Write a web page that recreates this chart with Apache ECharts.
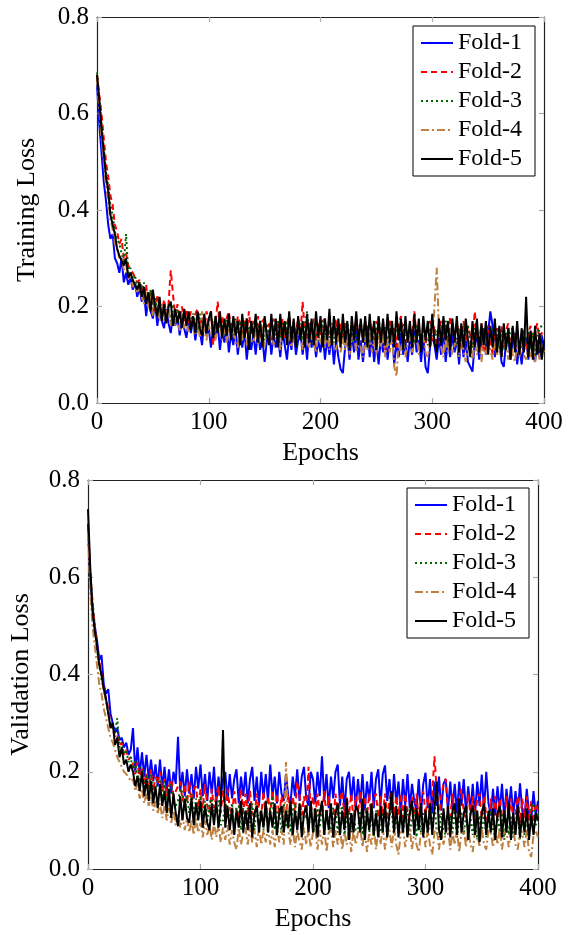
<!DOCTYPE html>
<html>
<head>
<meta charset="utf-8">
<script src="https://cdn.jsdelivr.net/npm/echarts@6/dist/echarts.min.js"></script>
<style>html,body{margin:0;padding:0;background:#fff;}#c{width:574px;height:935px;}</style>
</head>
<body>
<div id="c"></div>
<script>
const epochs = [0,2,4,6,8,10,12,14,16,18,20,22,24,26,28,30,32,34,36,38,40,42,44,46,48,50,52,54,56,58,60,62,64,66,68,70,72,74,76,78,80,82,84,86,88,90,92,94,96,98,100,102,104,106,108,110,112,114,116,118,120,122,124,126,128,130,132,134,136,138,140,142,144,146,148,150,152,154,156,158,160,162,164,166,168,170,172,174,176,178,180,182,184,186,188,190,192,194,196,198,200,202,204,206,208,210,212,214,216,218,220,222,224,226,228,230,232,234,236,238,240,242,244,246,248,250,252,254,256,258,260,262,264,266,268,270,272,274,276,278,280,282,284,286,288,290,292,294,296,298,300,302,304,306,308,310,312,314,316,318,320,322,324,326,328,330,332,334,336,338,340,342,344,346,348,350,352,354,356,358,360,362,364,366,368,370,372,374,376,378,380,382,384,386,388,390,392,394,396,398,400];
const foldNames = ['Fold-1','Fold-2','Fold-3','Fold-4','Fold-5'];
const xTicks = [0,100,200,300,400];
const yTicks = ['0.0','0.2','0.4','0.6','0.8'];

// Training loss (one value every 2 epochs)
const trainFold1 = [0.66,0.58,0.52,0.46,0.42,0.37,0.34,0.35,0.30,0.29,
0.27,0.30,0.25,0.27,0.245,0.26,0.235,0.25,0.22,0.24,
0.21,0.23,0.18,0.22,0.19,0.175,0.21,0.16,0.195,0.17,
0.155,0.195,0.165,0.145,0.185,0.16,0.18,0.14,0.175,0.155,
0.135,0.17,0.145,0.175,0.13,0.165,0.15,0.12,0.17,0.14,
0.155,0.115,0.16,0.135,0.165,0.11,0.15,0.125,0.16,0.105,
0.145,0.12,0.155,0.10,0.14,0.115,0.15,0.09,0.135,0.11,
0.145,0.10,0.15,0.11,0.135,0.085,0.13,0.15,0.10,0.14,
0.115,0.145,0.095,0.15,0.12,0.09,0.14,0.11,0.155,0.10,
0.13,0.15,0.10,0.14,0.09,0.155,0.115,0.14,0.095,0.13,
0.105,0.145,0.09,0.135,0.10,0.14,0.08,0.13,0.095,0.07,
0.062,0.115,0.14,0.09,0.145,0.105,0.155,0.09,0.13,0.085,
0.13,0.16,0.095,0.14,0.085,0.13,0.08,0.135,0.105,0.15,
0.09,0.13,0.145,0.08,0.125,0.095,0.145,0.10,0.13,0.085,
0.135,0.10,0.15,0.105,0.13,0.085,0.14,0.075,0.062,0.115,
0.14,0.12,0.09,0.135,0.10,0.155,0.085,0.13,0.095,0.145,
0.105,0.135,0.08,0.145,0.095,0.13,0.085,0.075,0.065,0.125,
0.135,0.09,0.13,0.155,0.10,0.145,0.19,0.16,0.095,0.135,
0.125,0.085,0.075,0.125,0.14,0.09,0.13,0.145,0.08,0.12,
0.08,0.125,0.135,0.09,0.14,0.10,0.085,0.13,0.095,0.14,
0.115];
const trainFold2 = [0.68,0.64,0.60,0.55,0.50,0.47,0.43,0.41,0.37,0.355,
0.33,0.34,0.30,0.31,0.285,0.275,0.27,0.26,0.25,0.255,
0.24,0.215,0.245,0.20,0.235,0.22,0.19,0.225,0.20,0.18,
0.215,0.185,0.205,0.275,0.225,0.18,0.205,0.175,0.20,0.17,
0.195,0.165,0.19,0.16,0.185,0.195,0.155,0.18,0.15,0.19,
0.17,0.19,0.12,0.165,0.21,0.155,0.18,0.145,0.175,0.19,
0.15,0.175,0.14,0.18,0.165,0.135,0.175,0.145,0.19,0.14,
0.17,0.145,0.18,0.135,0.17,0.175,0.14,0.165,0.13,0.175,
0.145,0.17,0.135,0.175,0.135,0.165,0.18,0.14,0.17,0.145,
0.175,0.14,0.21,0.15,0.13,0.17,0.145,0.175,0.13,0.165,
0.14,0.17,0.175,0.13,0.165,0.125,0.16,0.175,0.14,0.165,
0.135,0.17,0.145,0.125,0.165,0.14,0.18,0.13,0.165,0.14,
0.17,0.13,0.16,0.165,0.12,0.17,0.14,0.125,0.165,0.11,
0.16,0.17,0.13,0.155,0.115,0.165,0.18,0.135,0.16,0.125,
0.165,0.14,0.19,0.135,0.16,0.125,0.165,0.12,0.155,0.17,
0.13,0.16,0.115,0.155,0.17,0.135,0.165,0.12,0.18,0.14,
0.13,0.165,0.14,0.115,0.17,0.13,0.16,0.14,0.12,0.19,
0.14,0.125,0.165,0.105,0.15,0.16,0.13,0.10,0.14,0.155,
0.13,0.16,0.115,0.15,0.165,0.11,0.155,0.125,0.15,0.105,
0.14,0.155,0.11,0.145,0.16,0.12,0.15,0.165,0.125,0.145,
0.15];
const trainFold3 = [0.685,0.63,0.58,0.53,0.48,0.45,0.41,0.39,0.355,0.34,
0.33,0.31,0.29,0.35,0.27,0.28,0.25,0.265,0.24,0.25,
0.225,0.25,0.21,0.20,0.235,0.19,0.22,0.185,0.21,0.18,
0.205,0.175,0.20,0.17,0.205,0.165,0.195,0.175,0.16,0.19,
0.165,0.19,0.155,0.185,0.165,0.15,0.185,0.155,0.18,0.145,
0.175,0.18,0.15,0.175,0.145,0.175,0.16,0.14,0.175,0.15,
0.165,0.14,0.175,0.145,0.17,0.135,0.165,0.175,0.14,0.17,
0.135,0.165,0.145,0.17,0.14,0.13,0.165,0.14,0.175,0.135,
0.145,0.17,0.135,0.165,0.14,0.17,0.13,0.16,0.165,0.135,
0.15,0.165,0.13,0.16,0.19,0.135,0.165,0.14,0.13,0.16,
0.145,0.17,0.13,0.16,0.135,0.165,0.125,0.155,0.14,0.12,
0.155,0.13,0.165,0.14,0.125,0.16,0.13,0.155,0.165,0.13,
0.15,0.16,0.125,0.155,0.12,0.145,0.18,0.135,0.13,0.16,
0.125,0.155,0.14,0.12,0.16,0.13,0.155,0.165,0.13,0.125,
0.155,0.13,0.125,0.16,0.14,0.12,0.16,0.13,0.12,0.155,
0.165,0.13,0.15,0.14,0.125,0.16,0.17,0.13,0.125,0.155,
0.14,0.12,0.155,0.13,0.115,0.15,0.16,0.125,0.115,0.155,
0.135,0.115,0.16,0.125,0.15,0.12,0.145,0.155,0.11,0.145,
0.12,0.15,0.11,0.145,0.12,0.15,0.155,0.115,0.145,0.12,
0.115,0.145,0.125,0.15,0.11,0.145,0.10,0.135,0.155,0.16,
0.165];
const trainFold4 = [0.67,0.61,0.55,0.50,0.45,0.42,0.38,0.36,0.33,0.32,
0.30,0.305,0.275,0.29,0.255,0.27,0.24,0.25,0.23,0.24,
0.22,0.205,0.23,0.195,0.22,0.18,0.21,0.20,0.17,0.205,
0.17,0.195,0.20,0.16,0.19,0.16,0.18,0.15,0.185,0.155,
0.17,0.145,0.175,0.165,0.14,0.17,0.135,0.19,0.15,0.13,
0.165,0.14,0.17,0.13,0.16,0.175,0.13,0.165,0.125,0.155,
0.135,0.165,0.125,0.115,0.155,0.13,0.16,0.12,0.15,0.13,
0.125,0.155,0.12,0.15,0.16,0.115,0.15,0.125,0.155,0.12,
0.14,0.15,0.11,0.145,0.155,0.12,0.15,0.115,0.145,0.125,
0.14,0.15,0.11,0.145,0.125,0.115,0.145,0.12,0.105,0.145,
0.125,0.14,0.115,0.145,0.11,0.15,0.12,0.11,0.14,0.105,
0.135,0.11,0.145,0.10,0.135,0.14,0.105,0.135,0.115,0.095,
0.14,0.11,0.145,0.105,0.13,0.10,0.14,0.115,0.145,0.095,
0.13,0.105,0.14,0.075,0.055,0.125,0.10,0.135,0.095,0.125,
0.135,0.105,0.13,0.145,0.10,0.13,0.14,0.105,0.095,0.125,
0.13,0.20,0.28,0.15,0.115,0.095,0.135,0.105,0.13,0.10,
0.12,0.135,0.095,0.13,0.11,0.085,0.12,0.13,0.09,0.125,
0.10,0.13,0.085,0.125,0.10,0.135,0.11,0.09,0.125,0.10,
0.13,0.095,0.12,0.125,0.09,0.13,0.10,0.085,0.125,0.095,
0.13,0.10,0.09,0.125,0.095,0.12,0.085,0.125,0.09,0.12,
0.105];
const trainFold5 = [0.68,0.63,0.57,0.52,0.47,0.44,0.39,0.37,0.35,0.32,
0.305,0.295,0.285,0.30,0.26,0.27,0.255,0.245,0.235,0.25,
0.22,0.24,0.205,0.23,0.19,0.235,0.20,0.18,0.22,0.17,
0.205,0.165,0.20,0.21,0.16,0.195,0.165,0.19,0.155,0.195,
0.16,0.19,0.15,0.18,0.145,0.19,0.155,0.14,0.185,0.145,
0.175,0.19,0.135,0.18,0.145,0.19,0.135,0.175,0.14,0.185,
0.13,0.18,0.14,0.17,0.12,0.185,0.135,0.175,0.11,0.17,
0.135,0.185,0.125,0.17,0.115,0.18,0.14,0.12,0.185,0.13,
0.175,0.115,0.185,0.13,0.17,0.12,0.19,0.125,0.175,0.115,
0.18,0.13,0.17,0.115,0.185,0.125,0.175,0.12,0.19,0.135,
0.18,0.115,0.175,0.13,0.195,0.12,0.18,0.125,0.175,0.115,
0.185,0.125,0.17,0.11,0.18,0.13,0.19,0.12,0.175,0.125,
0.18,0.115,0.185,0.13,0.17,0.11,0.18,0.125,0.175,0.12,
0.185,0.125,0.17,0.115,0.19,0.13,0.175,0.11,0.18,0.125,
0.17,0.115,0.185,0.125,0.175,0.105,0.18,0.13,0.17,0.115,
0.185,0.125,0.105,0.175,0.12,0.18,0.13,0.17,0.11,0.175,
0.125,0.18,0.105,0.165,0.115,0.175,0.13,0.095,0.17,0.115,
0.175,0.105,0.165,0.12,0.17,0.10,0.16,0.115,0.175,0.105,
0.16,0.095,0.165,0.11,0.155,0.09,0.16,0.105,0.17,0.10,
0.155,0.105,0.22,0.095,0.15,0.09,0.16,0.10,0.145,0.09,
0.13];

// Validation loss (one value every 2 epochs)
const valFold1 = [0.71,0.60,0.54,0.50,0.47,0.43,0.44,0.38,0.36,0.37,
0.32,0.30,0.28,0.29,0.265,0.27,0.25,0.26,0.235,0.245,
0.29,0.20,0.25,0.195,0.24,0.19,0.235,0.185,0.225,0.18,
0.215,0.17,0.225,0.165,0.21,0.16,0.205,0.155,0.20,0.175,
0.272,0.16,0.20,0.15,0.205,0.155,0.195,0.145,0.21,0.165,
0.215,0.15,0.195,0.14,0.20,0.155,0.21,0.135,0.19,0.15,
0.185,0.20,0.14,0.195,0.145,0.185,0.205,0.135,0.19,0.15,
0.20,0.135,0.185,0.21,0.14,0.19,0.13,0.20,0.145,0.195,
0.14,0.215,0.15,0.19,0.135,0.20,0.155,0.14,0.195,0.15,
0.135,0.19,0.15,0.205,0.14,0.19,0.21,0.145,0.13,0.20,
0.185,0.135,0.20,0.15,0.232,0.14,0.195,0.125,0.19,0.145,
0.20,0.215,0.13,0.19,0.12,0.185,0.20,0.14,0.19,0.125,
0.185,0.135,0.195,0.12,0.18,0.14,0.20,0.125,0.185,0.205,
0.13,0.195,0.213,0.14,0.185,0.12,0.195,0.135,0.18,0.115,
0.185,0.13,0.195,0.125,0.175,0.14,0.12,0.185,0.115,0.175,
0.198,0.125,0.185,0.115,0.18,0.13,0.19,0.12,0.175,0.185,
0.12,0.18,0.125,0.175,0.115,0.18,0.13,0.185,0.115,0.17,
0.12,0.175,0.11,0.18,0.13,0.194,0.12,0.20,0.135,0.11,
0.165,0.11,0.17,0.12,0.175,0.105,0.165,0.12,0.17,0.11,
0.16,0.115,0.176,0.12,0.105,0.165,0.115,0.10,0.16,0.11,
0.14];
const valFold2 = [0.69,0.61,0.55,0.50,0.46,0.43,0.40,0.37,0.35,0.33,
0.30,0.29,0.27,0.275,0.255,0.26,0.235,0.245,0.225,0.23,
0.215,0.195,0.22,0.18,0.21,0.175,0.20,0.165,0.205,0.16,
0.19,0.175,0.20,0.16,0.185,0.15,0.17,0.185,0.15,0.16,
0.17,0.18,0.14,0.175,0.135,0.18,0.13,0.165,0.17,0.125,
0.165,0.125,0.175,0.13,0.115,0.165,0.125,0.15,0.17,0.115,
0.16,0.115,0.165,0.125,0.11,0.16,0.12,0.105,0.165,0.115,
0.155,0.11,0.16,0.115,0.105,0.155,0.12,0.11,0.16,0.105,
0.15,0.115,0.16,0.105,0.155,0.11,0.15,0.115,0.105,0.155,
0.11,0.15,0.115,0.18,0.155,0.11,0.15,0.105,0.21,0.115,
0.15,0.105,0.155,0.115,0.11,0.16,0.105,0.15,0.115,0.10,
0.155,0.11,0.145,0.16,0.105,0.15,0.11,0.155,0.10,0.15,
0.115,0.16,0.105,0.15,0.11,0.155,0.10,0.145,0.155,0.105,
0.15,0.11,0.155,0.10,0.145,0.16,0.105,0.15,0.11,0.155,
0.105,0.155,0.115,0.10,0.15,0.11,0.155,0.105,0.145,0.16,
0.11,0.15,0.105,0.155,0.232,0.16,0.105,0.15,0.175,0.185,
0.115,0.105,0.155,0.11,0.10,0.15,0.165,0.115,0.105,0.155,
0.11,0.15,0.10,0.145,0.155,0.105,0.15,0.11,0.095,0.145,
0.105,0.15,0.10,0.145,0.11,0.095,0.15,0.105,0.145,0.10,
0.11,0.15,0.095,0.145,0.105,0.15,0.10,0.14,0.095,0.135,
0.12];
const valFold3 = [0.70,0.61,0.55,0.50,0.45,0.42,0.39,0.37,0.345,0.32,
0.30,0.29,0.28,0.31,0.25,0.26,0.235,0.245,0.22,0.23,
0.20,0.225,0.18,0.21,0.205,0.165,0.195,0.16,0.195,0.15,
0.155,0.185,0.18,0.14,0.18,0.135,0.16,0.175,0.135,0.13,
0.14,0.165,0.155,0.12,0.15,0.115,0.155,0.105,0.145,0.115,
0.15,0.105,0.14,0.10,0.135,0.145,0.10,0.135,0.14,0.09,
0.10,0.135,0.125,0.09,0.135,0.085,0.125,0.13,0.08,0.125,
0.09,0.125,0.095,0.135,0.08,0.13,0.09,0.12,0.08,0.13,
0.09,0.125,0.15,0.08,0.115,0.125,0.075,0.135,0.085,0.12,
0.075,0.12,0.135,0.085,0.13,0.075,0.115,0.125,0.08,0.12,
0.095,0.075,0.125,0.085,0.135,0.07,0.12,0.09,0.08,0.125,
0.12,0.075,0.115,0.13,0.07,0.11,0.12,0.075,0.115,0.08,
0.08,0.12,0.07,0.11,0.125,0.075,0.115,0.065,0.12,0.08,
0.075,0.115,0.125,0.065,0.11,0.12,0.07,0.11,0.075,0.125,
0.075,0.11,0.125,0.07,0.105,0.12,0.065,0.11,0.075,0.115,
0.12,0.07,0.105,0.085,0.14,0.075,0.065,0.115,0.08,0.07,
0.07,0.11,0.075,0.12,0.065,0.105,0.115,0.07,0.11,0.075,
0.105,0.07,0.12,0.06,0.11,0.075,0.115,0.065,0.105,0.12,
0.08,0.065,0.11,0.075,0.115,0.06,0.105,0.07,0.11,0.065,
0.10,0.115,0.06,0.105,0.07,0.11,0.065,0.13,0.135,0.09,
0.115];
const valFold4 = [0.69,0.57,0.50,0.46,0.42,0.38,0.36,0.33,0.31,0.29,
0.27,0.26,0.245,0.23,0.22,0.21,0.20,0.195,0.19,0.18,
0.185,0.16,0.175,0.145,0.165,0.135,0.155,0.13,0.15,0.12,
0.14,0.115,0.135,0.105,0.13,0.10,0.125,0.095,0.12,0.09,
0.115,0.085,0.11,0.08,0.105,0.075,0.10,0.07,0.105,0.075,
0.095,0.065,0.10,0.07,0.09,0.06,0.095,0.065,0.09,0.055,
0.085,0.06,0.09,0.05,0.08,0.055,0.04,0.085,0.05,0.075,
0.085,0.05,0.09,0.055,0.08,0.045,0.085,0.05,0.08,0.055,
0.085,0.05,0.08,0.045,0.085,0.055,0.08,0.05,0.22,0.08,
0.05,0.085,0.045,0.08,0.055,0.04,0.085,0.05,0.08,0.045,
0.075,0.085,0.04,0.08,0.05,0.085,0.035,0.075,0.08,0.045,
0.08,0.05,0.085,0.04,0.075,0.05,0.085,0.035,0.08,0.05,
0.075,0.085,0.045,0.08,0.035,0.075,0.05,0.085,0.04,0.08,
0.05,0.085,0.04,0.075,0.08,0.045,0.085,0.05,0.03,0.075,
0.08,0.045,0.075,0.085,0.04,0.08,0.05,0.035,0.075,0.085,
0.045,0.08,0.05,0.03,0.075,0.085,0.04,0.08,0.05,0.075,
0.085,0.04,0.075,0.05,0.08,0.035,0.075,0.085,0.045,0.08,
0.05,0.035,0.08,0.075,0.045,0.085,0.05,0.04,0.08,0.075,
0.045,0.08,0.05,0.085,0.04,0.075,0.08,0.045,0.075,0.085,
0.05,0.04,0.08,0.075,0.045,0.08,0.035,0.025,0.07,0.08,
0.065];
const valFold5 = [0.74,0.62,0.53,0.49,0.46,0.42,0.40,0.37,0.35,0.32,
0.29,0.30,0.255,0.27,0.23,0.25,0.215,0.225,0.20,0.215,
0.20,0.17,0.19,0.16,0.20,0.15,0.185,0.14,0.18,0.135,
0.17,0.125,0.175,0.13,0.16,0.115,0.165,0.105,0.155,0.115,
0.088,0.15,0.10,0.145,0.105,0.095,0.145,0.09,0.135,0.10,
0.14,0.085,0.13,0.095,0.08,0.135,0.09,0.14,0.085,0.13,
0.286,0.085,0.13,0.08,0.125,0.07,0.12,0.085,0.14,0.075,
0.12,0.08,0.135,0.065,0.115,0.13,0.075,0.12,0.085,0.14,
0.075,0.12,0.085,0.135,0.07,0.115,0.13,0.075,0.12,0.085,
0.14,0.07,0.12,0.08,0.135,0.065,0.115,0.13,0.075,0.14,
0.075,0.125,0.065,0.115,0.14,0.07,0.12,0.08,0.135,0.065,
0.115,0.135,0.07,0.12,0.08,0.145,0.06,0.115,0.075,0.13,
0.12,0.075,0.145,0.06,0.12,0.08,0.135,0.07,0.115,0.065,
0.13,0.075,0.135,0.065,0.115,0.16,0.075,0.13,0.065,0.12,
0.075,0.13,0.065,0.115,0.14,0.07,0.125,0.08,0.135,0.065,
0.12,0.075,0.135,0.07,0.125,0.18,0.08,0.06,0.125,0.075,
0.13,0.065,0.12,0.135,0.07,0.145,0.075,0.115,0.13,0.06,
0.115,0.13,0.07,0.12,0.055,0.115,0.135,0.07,0.12,0.075,
0.125,0.06,0.115,0.13,0.065,0.12,0.075,0.135,0.06,0.115,
0.07,0.13,0.065,0.115,0.075,0.125,0.06,0.11,0.07,0.115,
0.10];

const trainData = [trainFold1, trainFold2, trainFold3, trainFold4, trainFold5];
const valData = [valFold1, valFold2, valFold3, valFold4, valFold5];

const FONT = 'Liberation Serif';
const foldStyles = [
  {color:'#0000ff', type:'solid'},
  {color:'#ff0000', type:[6,4]},
  {color:'#006400', type:[2,3]},
  {color:'#bf8040', type:[8,3,2,3]},
  {color:'#000000', type:'solid'}
];

function pairs(ys){ return epochs.map((e,i)=>[e, ys[i]]); }

function mkX(grid, main){
  return {
    gridIndex: grid, type:'value', min:0, max:400, interval:100,
    position: main ? 'bottom' : 'top',
    name: main ? 'Epochs' : '', nameLocation:'middle', nameGap:37,
    nameTextStyle:{fontFamily:FONT, fontSize:26, color:'#000'},
    axisLine:{show:true, onZero:false, lineStyle:{color:'#222', width:1.2}},
    axisTick:{show:true, inside:true, length:5, lineStyle:{color:'#aaa', width:1.2}},
    axisLabel:{show:main, margin:7, fontFamily:FONT, fontSize:25, color:'#000',
      formatter: v => String(xTicks[Math.round(v/100)])},
    splitLine:{show:false}
  };
}
function mkY(grid, main, name, gap){
  return {
    gridIndex: grid, type:'value', min:0, max:0.8, interval:0.2,
    position: main ? 'left' : 'right',
    name: main ? name : '', nameLocation:'middle', nameGap:gap, nameRotate:90,
    nameTextStyle:{fontFamily:FONT, fontSize:26, color:'#000'},
    axisLine:{show:true, onZero:false, lineStyle:{color:'#222', width:1.2}},
    axisTick:{show:true, inside:true, length:5, lineStyle:{color:'#aaa', width:1.2}},
    axisLabel:{show:main, margin:8, fontFamily:FONT, fontSize:25, color:'#000',
      formatter: v => yTicks[Math.round(v/0.2)]},
    splitLine:{show:false}
  };
}

const series = [];
[trainData, valData].forEach((set, gi) => {
  set.forEach((ys, k) => {
    series.push({
      name: foldNames[k], type:'line', xAxisIndex: gi*2, yAxisIndex: gi*2,
      data: pairs(ys), symbol:'none', showSymbol:false, smooth:false,
      lineStyle:{color:foldStyles[k].color, width:2, type:foldStyles[k].type},
      itemStyle:{color:foldStyles[k].color},
      emphasis:{disabled:true}, z: 2 + k
    });
  });
});

function mkLegend(left, top){
  return {
    orient:'vertical', left:left, top:top, data:foldNames,
    itemWidth:32, itemHeight:14, itemGap:5,
    padding:[5,13,5,7],
    borderColor:'#000', borderWidth:1, backgroundColor:'#fff',
    itemStyle:{opacity:0},
    textStyle:{fontFamily:FONT, fontSize:24, lineHeight:24, color:'#000'},
    selectedMode:false
  };
}

const option = {
  animation:false,
  backgroundColor:'#fff',
  grid:[{left:97, top:17, width:447, height:386},{left:87, top:480, width:451, height:389}],
  xAxis:[mkX(0,true), mkX(0,false), mkX(1,true), mkX(1,false)],
  yAxis:[mkY(0,true,'Training Loss',57), mkY(0,false), mkY(1,true,'Validation Loss',54), mkY(1,false)],
  legend:[mkLegend(413,26), mkLegend(407,488)],
  series: series
};

const chart = echarts.init(document.getElementById('c'), null, {renderer:'canvas'});
chart.setOption(option);
</script>
</body>
</html>
